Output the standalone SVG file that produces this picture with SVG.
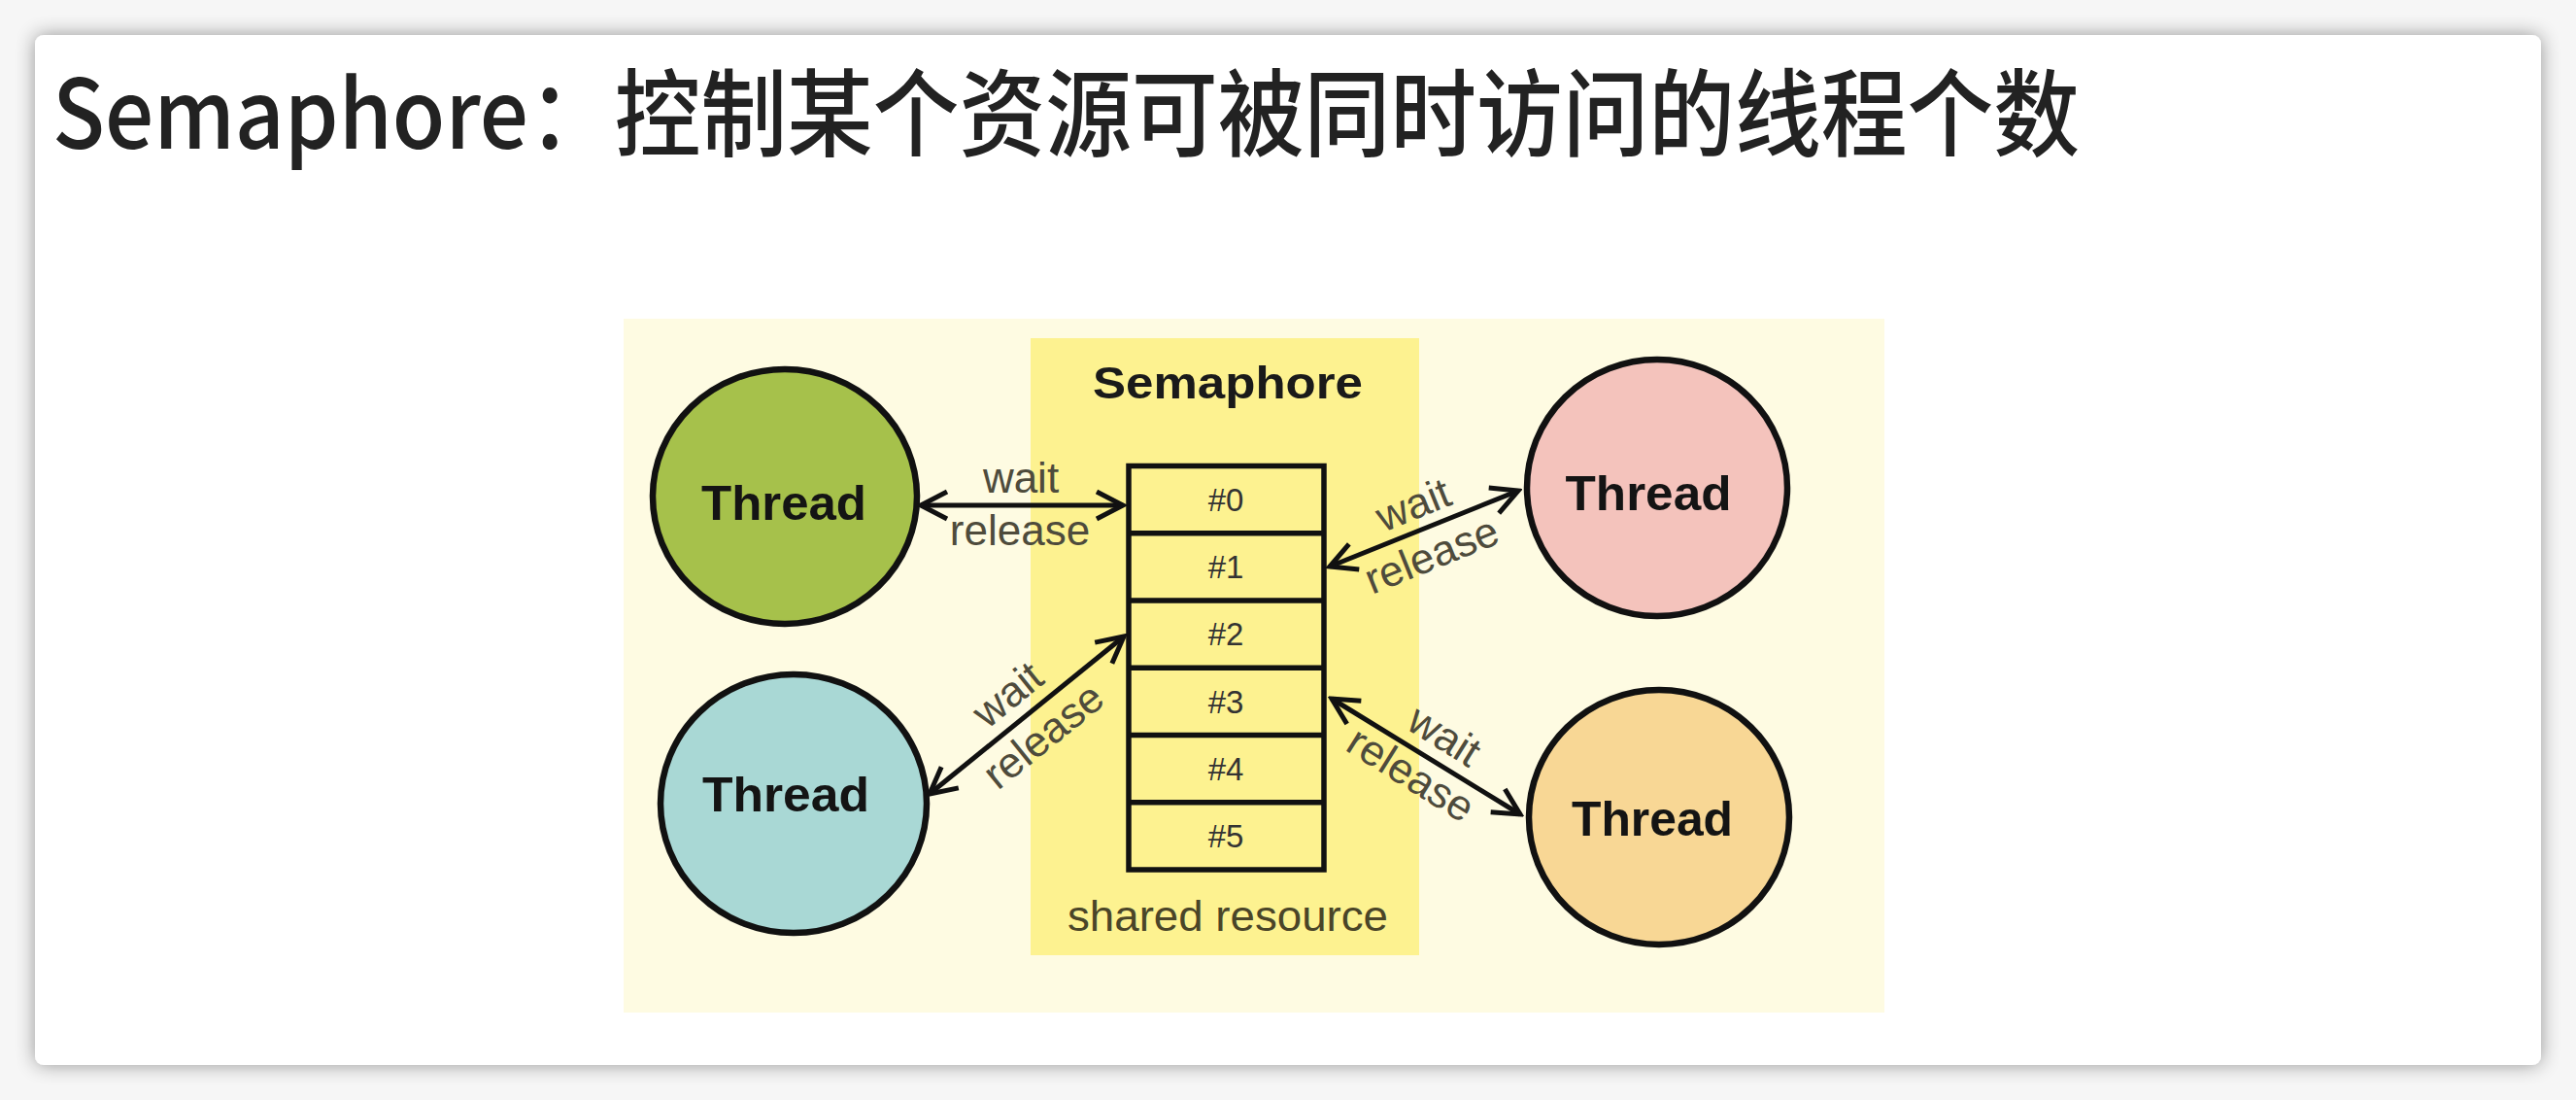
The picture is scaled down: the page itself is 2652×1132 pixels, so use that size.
<svg xmlns="http://www.w3.org/2000/svg" width="2652" height="1132" viewBox="0 0 2652 1132">
  <style>
    .thread { stroke: #111; stroke-width: 6.5; }
    .tlabel { font-family: "Liberation Sans", Arial, sans-serif; font-weight: bold; font-size: 50px; fill: #141414; text-anchor: middle; }
    .cell { fill: none; stroke: #111; stroke-width: 5.5; }
    .num { font-family: "Liberation Sans", Arial, sans-serif; font-size: 33px; fill: #333; text-anchor: middle; }
    .conn { stroke: #111; stroke-width: 5; fill: none; marker-start: url(#arr); marker-end: url(#arr); }
    .lbl { font-family: "Liberation Sans", Arial, sans-serif; font-size: 44px; fill: #4e4b3c; text-anchor: middle; }
  </style>
  <defs>
    <marker id="arr" viewBox="-32 -18 36 36" refX="0" refY="0" markerWidth="36" markerHeight="36" markerUnits="userSpaceOnUse" orient="auto-start-reverse">
      <path d="M-27,-14 L0,0 L-27,14" fill="none" stroke="#111" stroke-width="5" stroke-linejoin="miter"/>
    </marker>
    <filter id="shadow" x="-5%" y="-10%" width="110%" height="120%">
      <feGaussianBlur in="SourceAlpha" stdDeviation="10"/>
      <feComponentTransfer><feFuncA type="linear" slope="0.4"/></feComponentTransfer>
      <feMerge><feMergeNode/><feMergeNode in="SourceGraphic"/></feMerge>
    </filter>
  </defs>

  <rect x="0" y="0" width="2652" height="1132" fill="#f6f6f6"/>
  <rect id="card" x="36" y="36" width="2580" height="1060" rx="9" fill="#ffffff" filter="url(#shadow)"/>

  <text id="title" x="54" y="153" font-family="'Noto Sans CJK SC', 'Noto Sans', sans-serif" font-size="98" font-weight="500" fill="#222" textLength="2087" lengthAdjust="spacingAndGlyphs">Semaphore：控制某个资源可被同时访问的线程个数</text>

  <g id="diagram-bg">
    <rect x="642" y="328" width="1298" height="714" fill="#fefbe2"/>
    <rect x="1061" y="348" width="400" height="635" fill="#fdf290"/>
  </g>

  <g id="semaphore">
    <text x="1264" y="410" font-family="'Liberation Sans', Arial, sans-serif" font-weight="bold" font-size="46" fill="#1a1a1a" text-anchor="middle" textLength="278" lengthAdjust="spacingAndGlyphs">Semaphore</text>
    <g id="stack">
      <rect class="cell" x="1162" y="479.5" width="201" height="415.5"/>
      <line class="cell" x1="1162" y1="548.8" x2="1363" y2="548.8"/>
      <line class="cell" x1="1162" y1="618" x2="1363" y2="618"/>
      <line class="cell" x1="1162" y1="687.3" x2="1363" y2="687.3"/>
      <line class="cell" x1="1162" y1="756.5" x2="1363" y2="756.5"/>
      <line class="cell" x1="1162" y1="825.8" x2="1363" y2="825.8"/>
      <text class="num" x="1262" y="526">#0</text>
      <text class="num" x="1262" y="595">#1</text>
      <text class="num" x="1262" y="664">#2</text>
      <text class="num" x="1262" y="734">#3</text>
      <text class="num" x="1262" y="803">#4</text>
      <text class="num" x="1262" y="872">#5</text>
    </g>
    <text x="1264" y="958" font-family="'Liberation Sans', Arial, sans-serif" font-size="45" fill="#4a4528" text-anchor="middle" textLength="330" lengthAdjust="spacingAndGlyphs">shared resource</text>
  </g>

  <g id="thread-green">
    <ellipse class="thread" cx="808" cy="511" rx="136" ry="131" fill="#a6c14b"/>
    <text class="tlabel" x="807" y="535" textLength="170" lengthAdjust="spacingAndGlyphs">Thread</text>
  </g>
  <g id="thread-teal">
    <ellipse class="thread" cx="817" cy="827" rx="137" ry="133" fill="#a9d8d5"/>
    <text class="tlabel" x="809" y="835" textLength="172" lengthAdjust="spacingAndGlyphs">Thread</text>
  </g>
  <g id="thread-pink">
    <ellipse class="thread" cx="1706" cy="502" rx="134" ry="132" fill="#f4c3bc"/>
    <text class="tlabel" x="1697" y="525" textLength="171" lengthAdjust="spacingAndGlyphs">Thread</text>
  </g>
  <g id="thread-orange">
    <ellipse class="thread" cx="1708" cy="841" rx="134" ry="131" fill="#f8d795"/>
    <text class="tlabel" x="1701" y="860" textLength="166" lengthAdjust="spacingAndGlyphs">Thread</text>
  </g>

  <g id="connectors">
    <line class="conn" x1="948" y1="520" x2="1156" y2="520"/>
    <text class="lbl" x="1051" y="507">wait</text>
    <text class="lbl" x="1050" y="561">release</text>

    <line class="conn" x1="957" y1="817" x2="1157" y2="655"/>
    <g transform="translate(1057,736) rotate(-39)">
      <text class="lbl" x="-2" y="-14">wait</text>
      <text class="lbl" x="0" y="42">release</text>
    </g>

    <line class="conn" x1="1369" y1="583" x2="1563" y2="505"/>
    <g transform="translate(1466,544) rotate(-22)">
      <text class="lbl" x="-1" y="-12">wait</text>
      <text class="lbl" x="-3" y="43">release</text>
    </g>

    <line class="conn" x1="1371" y1="719" x2="1565" y2="838"/>
    <g transform="translate(1468,778) rotate(32)">
      <text class="lbl" x="5" y="-13">wait</text>
      <text class="lbl" x="-3" y="39">release</text>
    </g>
  </g>
</svg>
